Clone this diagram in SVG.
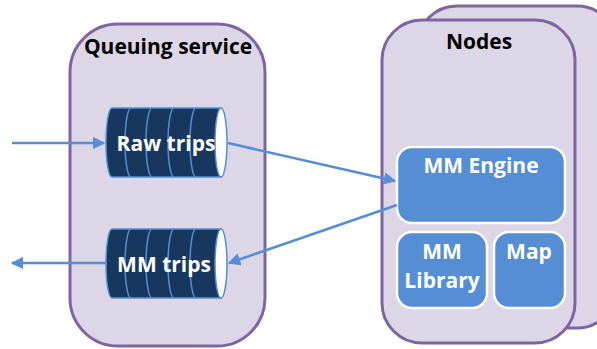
<svg xmlns="http://www.w3.org/2000/svg" width="597" height="349" viewBox="0 0 597 349">
<defs>
<style>
.box{fill:#ddd6e6;stroke:#8064a2;stroke-width:3}
.title{font-family:"Open Sans","Liberation Sans",sans-serif;font-weight:bold;font-size:21px;fill:#000;text-anchor:middle}
.comp{fill:#558ed5;stroke:#fff;stroke-width:2.5}
.lbl{font-family:"Open Sans","Liberation Sans",sans-serif;font-weight:bold;font-size:21px;fill:#fff;text-anchor:middle}
.cyl{fill:#17375e;stroke:#558ed5;stroke-width:1.5}
.stripe{fill:none;stroke:#558ed5;stroke-width:1.5}
.end{fill:#fff;stroke:#558ed5;stroke-width:1.5}
.conn{stroke:#558ed5;stroke-width:2.5;fill:none}
</style>
<marker id="ah" viewBox="0 0 10 10" refX="9" refY="5" markerWidth="5" markerHeight="5" orient="auto" markerUnits="strokeWidth">
<path d="M0,0 L10,5 L0,10 Z" fill="#558ed5"/>
</marker>
</defs>
<g id="queuing-service">
<rect class="box" x="70" y="24" width="195" height="322" rx="48"/>
<text class="title" x="168" y="54">Queuing service</text>
</g>
<g id="nodes-back">
<rect class="box" x="417" y="6" width="200" height="322" rx="40"/>
</g>
<g id="nodes">
<rect class="box" x="382" y="20" width="193" height="323" rx="40"/>
<text class="title" x="479" y="49">Nodes</text>
</g>
<g id="raw-trips">
<path class="cyl" d="M112,108 H221 V177 H112 A6,34.5 0 0 1 112,108 Z"/>
<path class="stripe" d="M131,108 A6,34.5 0 0 0 131,177 M152,108 A6,34.5 0 0 0 152,177 M174,108 A6,34.5 0 0 0 174,177 M196,108 A6,34.5 0 0 0 196,177"/>
<ellipse class="end" cx="221" cy="142.5" rx="6" ry="34.5"/>
<text class="lbl" x="166" y="151">Raw trips</text>
</g>
<g id="mm-trips">
<path class="cyl" d="M112,229 H221 V298 H112 A6,34.5 0 0 1 112,229 Z"/>
<path class="stripe" d="M131,229 A6,34.5 0 0 0 131,298 M152,229 A6,34.5 0 0 0 152,298 M174,229 A6,34.5 0 0 0 174,298 M196,229 A6,34.5 0 0 0 196,298"/>
<ellipse class="end" cx="221" cy="263.5" rx="6" ry="34.5"/>
<text class="lbl" x="164" y="272">MM trips</text>
</g>
<g id="mm-engine">
<rect class="comp" x="397" y="147" width="168" height="76" rx="15"/>
<text class="lbl" x="481" y="173">MM Engine</text>
</g>
<g id="mm-library">
<rect class="comp" x="397" y="232" width="90" height="76" rx="15"/>
<text class="lbl" x="442" y="259">MM</text>
<text class="lbl" x="442" y="288">Library</text>
</g>
<g id="map">
<rect class="comp" x="494" y="232" width="71" height="76" rx="15"/>
<text class="lbl" x="529" y="259">Map</text>
</g>
<g id="connectors">
<line class="conn" x1="12" y1="143" x2="104" y2="143" marker-end="url(#ah)"/>
<line class="conn" x1="107" y1="263" x2="12" y2="263" marker-end="url(#ah)"/>
<line class="conn" x1="228" y1="143" x2="395" y2="181" marker-end="url(#ah)"/>
<line class="conn" x1="397" y1="205" x2="229" y2="263" marker-end="url(#ah)"/>
</g>
</svg>
